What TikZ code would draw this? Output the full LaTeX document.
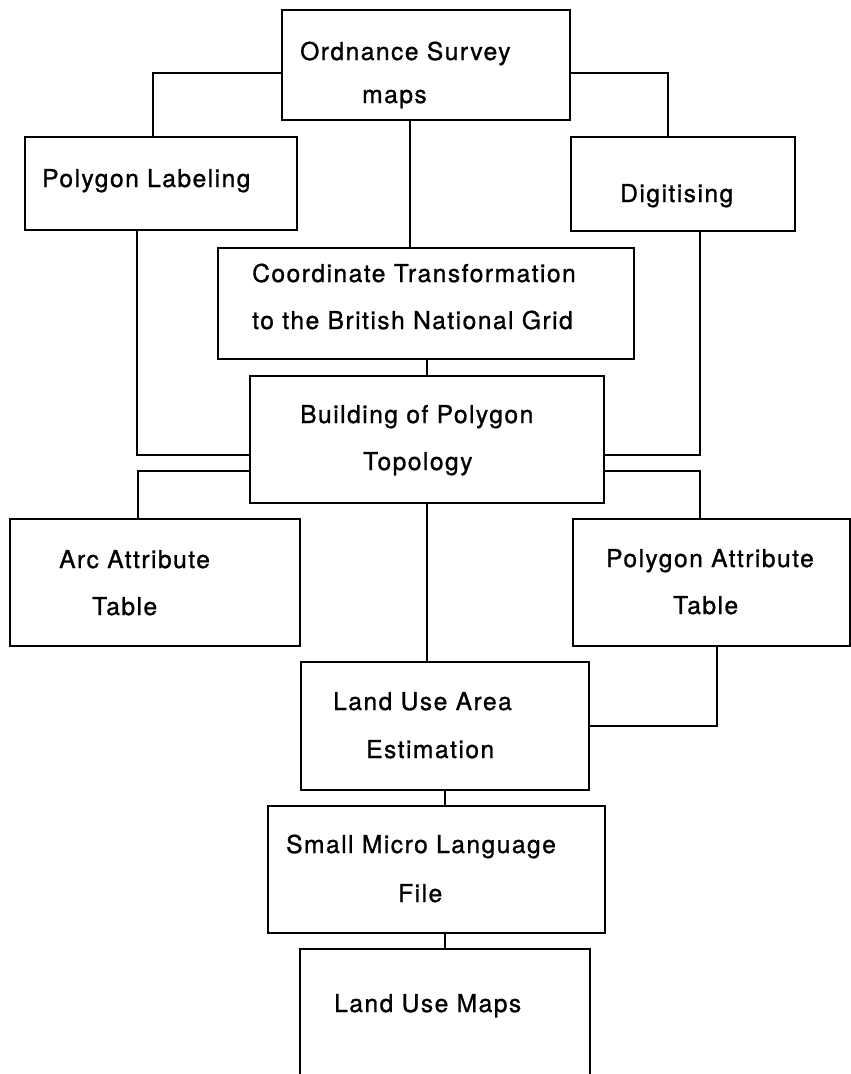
\documentclass[tikz,border=0pt]{standalone}
\usepackage{fontspec}
\setmainfont[LetterSpace=6,FakeBold=1]{TeX Gyre Heros}
\begin{document}
\begin{tikzpicture}[x=1pt,y=-1pt,
  box/.style={draw,line width=2.4pt,rectangle,inner sep=0pt,outer sep=0pt,anchor=north west},
  lbl/.style={anchor=base west,inner sep=0pt,font=\fontsize{24.6}{28}\selectfont},
  conn/.style={line width=2.2pt}]
\useasboundingbox (0,0) rectangle (851,1074);
\clip (0,0) rectangle (851,1074);
\fill[white] (0,0) rectangle (851,1074);
% boxes
\node[box,minimum width=288pt,minimum height=110pt] (ord) at (282,10) {};
\node[box,minimum width=272pt,minimum height=93pt] (plab) at (25,137) {};
\node[box,minimum width=224pt,minimum height=94pt] (dig) at (571,137) {};
\node[box,minimum width=416pt,minimum height=111pt] (coord) at (218,248) {};
\node[box,minimum width=354pt,minimum height=127pt] (build) at (250,376) {};
\node[box,minimum width=290pt,minimum height=127pt] (arc) at (10,519) {};
\node[box,minimum width=277pt,minimum height=127pt] (pat) at (573,519) {};
\node[box,minimum width=288pt,minimum height=128pt] (lua) at (301,662) {};
\node[box,minimum width=337pt,minimum height=127pt] (smf) at (268,806) {};
\node[box,minimum width=290pt,minimum height=140pt] (lum) at (300,949) {};
% texts
\node[lbl] (t1) at (300,60) {Ordnance Survey};
\node[lbl] (t2) at (362,103) {maps};
\node[lbl] (t3) at (42,187) {Polygon Labeling};
\node[lbl] (t4) at (620,202) {Digitising};
\node[lbl] (t5) at (252,282) {Coordinate Transformation};
\node[lbl] (t6) at (252,329) {to the British National Grid};
\node[lbl] (t7) at (300,423) {Building of Polygon};
\node[lbl] (t8) at (363,470) {Topology};
\node[lbl] (t9) at (59,568) {Arc Attribute};
\node[lbl] (t10) at (92,615) {Table};
\node[lbl] (t11) at (606,567) {Polygon Attribute};
\node[lbl] (t12) at (673,614) {Table};
\node[lbl] (t13) at (333,710) {Land Use Area};
\node[lbl] (t14) at (366,758) {Estimation};
\node[lbl] (t15) at (286,853) {Small Micro Language};
\node[lbl] (t16) at (398,902) {File};
\node[lbl] (t17) at (334,1012) {Land Use Maps};
% connectors
\draw[conn] ([yshift=-8pt]ord.west) -| ([xshift=-8pt]plab.north);
\draw[conn] ([yshift=-8pt]ord.east) -| ([xshift=-15pt]dig.north);
\draw[conn] ([xshift=-16pt]ord.south) -- ([xshift=-16pt]coord.north);
\draw[conn] (build.north |- coord.south) -- (build.north);
\draw[conn] ([xshift=-24pt]plab.south) |- ([yshift=-15.5pt]build.west);
\draw[conn] ([xshift=17pt]dig.south) |- ([yshift=-15.5pt]build.east);
\draw[conn] ([yshift=-31.5pt]build.west) -| ([xshift=-17pt]arc.north);
\draw[conn] ([yshift=-31.5pt]build.east) -| ([xshift=-11.5pt]pat.north);
\draw[conn] (build.south) -- (build.south |- lua.north);
\draw[conn] ([xshift=5.5pt]pat.south) |- (lua.east);
\draw[conn] (lua.south) -- (lua.south |- smf.north);
\draw[conn] (lum.north |- smf.south) -- (lum.north);
\end{tikzpicture}
\end{document}
